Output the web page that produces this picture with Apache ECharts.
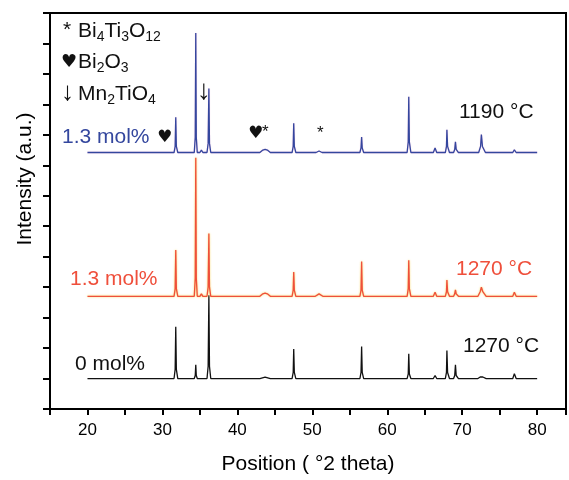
<!DOCTYPE html>
<html>
<head>
<meta charset="utf-8">
<script src="https://cdn.jsdelivr.net/npm/echarts@6/dist/echarts.min.js"></script>
<style>
  html, body { margin: 0; padding: 0; background: #fff; }
  #chart { width: 569px; height: 480px; }
</style>
</head>
<body>
<div id="chart"></div>
<script>
// x ticks (2 theta)
var xTickLabels = [20, 30, 40, 50, 60, 70, 80];

// vertical offsets of the stacked patterns (a.u.)
var offsets = { black: 1.0, red: 3.70, blue: 8.42 };

// [2theta, intensity above baseline]
var bluePattern = [
  [20, 0], [29.8, 0], [30.0, 0.05], [30.2, 0],
  [31.55, 0], [31.7, 0.2], [31.78, 1.16], [31.86, 0.2], [32.05, 0],
  [34.25, 0], [34.38, 0.5], [34.45, 3.92], [34.52, 0.5], [34.65, 0],
  [35.0, 0], [35.2, 0.08], [35.4, 0],
  [35.95, 0], [36.1, 0.3], [36.2, 2.10], [36.28, 0.3], [36.45, 0],
  [43.0, 0], [43.4, 0.08], [43.7, 0.1], [44.0, 0.08], [44.4, 0],
  [47.3, 0], [47.45, 0.2], [47.52, 0.96], [47.6, 0.2], [47.8, 0],
  [50.5, 0], [50.9, 0.05], [51.3, 0],
  [56.35, 0], [56.5, 0.15], [56.58, 0.51], [56.66, 0.15], [56.85, 0],
  [62.65, 0], [62.8, 0.35], [62.87, 1.83], [62.95, 0.35], [63.15, 0],
  [66.15, 0], [66.38, 0.15], [66.6, 0],
  [67.75, 0], [67.9, 0.2], [67.96, 0.75], [68.05, 0.2], [68.3, 0],
  [68.85, 0], [69.0, 0.1], [69.1, 0.35], [69.2, 0.1], [69.5, 0],
  [72.2, 0], [72.45, 0.2], [72.56, 0.59], [72.7, 0.2], [73.1, 0],
  [76.75, 0], [76.96, 0.09], [77.2, 0], [80, 0]
];

var redPattern = [
  [20, 0], [29.8, 0], [30.0, 0.03], [30.2, 0],
  [31.55, 0], [31.7, 0.25], [31.78, 1.52], [31.86, 0.25], [32.05, 0],
  [34.25, 0], [34.38, 0.6], [34.45, 4.55], [34.52, 0.6], [34.65, 0],
  [35.0, 0], [35.2, 0.08], [35.4, 0],
  [35.95, 0], [36.1, 0.3], [36.2, 2.06], [36.28, 0.3], [36.45, 0],
  [43.0, 0], [43.4, 0.08], [43.7, 0.1], [44.0, 0.08], [44.4, 0],
  [47.3, 0], [47.45, 0.2], [47.52, 0.80], [47.6, 0.2], [47.8, 0],
  [50.4, 0], [50.9, 0.08], [51.4, 0],
  [56.35, 0], [56.5, 0.2], [56.58, 1.14], [56.66, 0.2], [56.85, 0],
  [62.65, 0], [62.8, 0.25], [62.87, 1.18], [62.95, 0.25], [63.15, 0],
  [66.15, 0], [66.38, 0.13], [66.6, 0],
  [67.75, 0], [67.9, 0.15], [67.96, 0.53], [68.05, 0.15], [68.3, 0],
  [68.85, 0], [69.0, 0.08], [69.1, 0.21], [69.2, 0.08], [69.5, 0],
  [72.1, 0], [72.4, 0.15], [72.56, 0.30], [72.75, 0.15], [73.2, 0],
  [76.75, 0], [76.96, 0.13], [77.2, 0], [80, 0]
];

var blackPattern = [
  [20, 0],
  [31.55, 0], [31.7, 0.3], [31.78, 1.70], [31.86, 0.3], [32.05, 0],
  [34.25, 0], [34.38, 0.1], [34.45, 0.45], [34.52, 0.1], [34.65, 0],
  [35.95, 0], [36.1, 0.4], [36.2, 2.73], [36.28, 0.4], [36.45, 0],
  [43.0, 0], [43.7, 0.05], [44.4, 0],
  [47.3, 0], [47.45, 0.2], [47.52, 0.97], [47.6, 0.2], [47.8, 0],
  [56.35, 0], [56.5, 0.2], [56.58, 1.05], [56.66, 0.2], [56.85, 0],
  [62.65, 0], [62.8, 0.15], [62.87, 0.81], [62.95, 0.15], [63.15, 0],
  [66.15, 0], [66.38, 0.10], [66.6, 0],
  [67.75, 0], [67.9, 0.2], [67.96, 0.92], [68.05, 0.2], [68.3, 0],
  [68.85, 0], [69.0, 0.1], [69.1, 0.45], [69.2, 0.1], [69.5, 0],
  [72.1, 0], [72.4, 0.05], [72.56, 0.11], [72.75, 0.05], [73.2, 0],
  [76.75, 0], [76.96, 0.16], [77.2, 0], [80, 0]
];

function shift(pattern, off) {
  return pattern.map(function (p) { return [p[0], p[1] + off]; });
}

var font = 'Liberation Sans, Arial, Helvetica, sans-serif';
var sym = 'DejaVu Sans, sans-serif';
var BLUE = '#34479e', RED = '#ef4f3b', BLACK = '#111';

function label(txt, x, y, color, size, fam) {
  return {
    type: 'text', x: x, y: y, z: 100,
    style: { text: txt, fill: color, font: (size || 21) + 'px ' + (fam || font), verticalAlign: 'middle' }
  };
}
function formula(txt, x, y) {
  return {
    type: 'text', x: x, y: y, z: 100,
    style: {
      text: txt, fill: BLACK, verticalAlign: 'middle',
      rich: {
        m: { fontSize: 21, fontFamily: font, lineHeight: 26, verticalAlign: 'middle', fill: BLACK },
        s: { fontSize: 14, fontFamily: font, lineHeight: 12, verticalAlign: 'bottom', fill: BLACK }
      }
    }
  };
}

var chart = echarts.init(document.getElementById('chart'));
var option = {
  animation: false,
  backgroundColor: '#fff',
  grid: {
    left: 50, right: 0, top: 13, bottom: 67,
    show: true, borderColor: '#000', borderWidth: 2
  },
  xAxis: {
    type: 'value', min: 15, max: 83.85, interval: 5,
    splitLine: { show: false },
    axisLine: { lineStyle: { color: '#000', width: 2 } },
    axisTick: { inside: false, length: 6, lineStyle: { color: '#000', width: 2 } },
    axisLabel: {
      color: '#000', fontSize: 17, fontFamily: font, margin: 13,
      formatter: function (v) { return xTickLabels.indexOf(v) >= 0 ? String(v) : ''; }
    },
    name: 'Position ( °2 theta)', nameLocation: 'middle', nameGap: 45,
    nameTextStyle: { color: '#000', fontSize: 21, fontFamily: font }
  },
  yAxis: {
    type: 'value', min: 0, max: 13, interval: 1,
    splitLine: { show: false },
    axisLine: { lineStyle: { color: '#000', width: 2 } },
    axisTick: { inside: false, length: 7, lineStyle: { color: '#000', width: 2 } },
    axisLabel: { show: false }
  },
  series: [
    { type: 'line', data: shift(blackPattern, offsets.black), showSymbol: false,
      lineStyle: { color: BLACK, width: 1.3 } },
    { type: 'line', data: shift(redPattern, offsets.red), showSymbol: false,
      lineStyle: { color: RED, width: 1.3, shadowColor: 'rgba(245,200,40,0.8)', shadowBlur: 2 } },
    { type: 'line', data: shift(bluePattern, offsets.blue), showSymbol: false,
      lineStyle: { color: BLUE, width: 1.3, shadowColor: 'rgba(220,60,170,0.3)', shadowBlur: 1 } }
  ],
  graphic: [
    {
      type: 'text', x: 25, y: 179, rotation: Math.PI / 2, z: 100,
      style: { text: 'Intensity (a.u.)', fill: '#000', font: '21px ' + font,
               align: 'center', verticalAlign: 'middle' }
    },
    label('*', 63, 30, BLACK, 21),
    formula('{m|Bi}{s|4}{m|Ti}{s|3}{m|O}{s|12}', 78, 31),
    label('♥', 61, 62, BLACK, 18, sym),
    formula('{m|Bi}{s|2}{m|O}{s|3}', 78, 62),
    label('↓', 61, 93, BLACK, 26),
    formula('{m|Mn}{s|2}{m|TiO}{s|4}', 78, 94),
    label('1.3 mol%', 62, 137, BLUE, 21),
    label('♥', 157, 138, BLACK, 17, sym),
    label('↓', 197, 91, BLACK, 28),
    label('♥', 248, 134, BLACK, 17, sym),
    label('*', 262, 132, BLACK, 17),
    label('*', 317, 133, BLACK, 17),
    label('1190 °C', 459, 112, BLACK, 21),
    label('1.3 mol%', 70, 279, RED, 21),
    label('1270 °C', 456, 269, RED, 21),
    label('0 mol%', 75, 364, BLACK, 21),
    label('1270 °C', 463, 346, BLACK, 21)
  ]
};
chart.setOption(option);
</script>
</body>
</html>
